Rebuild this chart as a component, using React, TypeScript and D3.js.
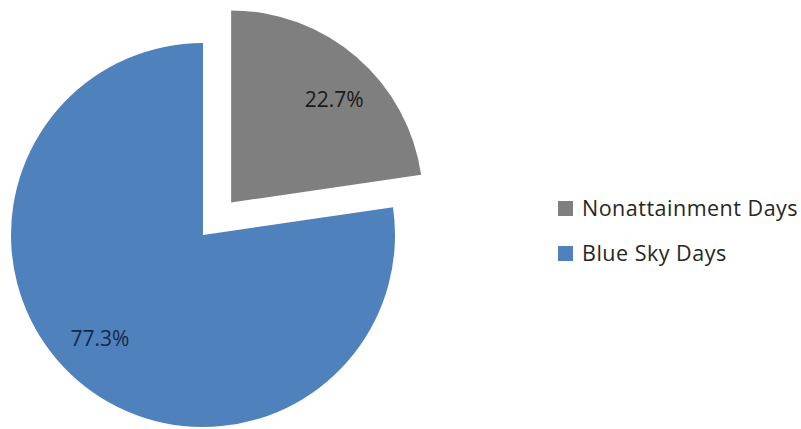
import React from "react";
import * as d3 from "d3";

const categories = ["Nonattainment Days", "Blue Sky Days"];
const values = [22.7, 77.3];
const labels = ["22.7%", "77.3%"];
const colors = ["#7f7f7f", "#4f81bd"];
const labelColors = ["#1a1a1a", "#15294a"];
const explode = [43, 0];

export default function App() {
  const width = 801;
  const height = 429;
  const cx = 203;
  const cy = 235;
  const r = 192;
  const labelR = 146;
  const labelRot = 0.07;
  const pie = d3.pie<number>().sort(null).value((d) => d);
  const arcs = pie(values);
  const arc = d3.arc<d3.PieArcDatum<number>>().innerRadius(0).outerRadius(r);

  return (
    <svg width={width} height={height} style={{ position: "absolute", left: 0, top: 0 }}>
      <rect width={width} height={height} fill="#ffffff" />
      <g transform={`translate(${cx},${cy})`}>
        {arcs.map((a, i) => {
          const mid = (a.startAngle + a.endAngle) / 2;
          const dx = Math.sin(mid) * explode[i];
          const dy = -Math.cos(mid) * explode[i];
          const la = mid + labelRot;
          const lx = Math.sin(la) * labelR;
          const ly = -Math.cos(la) * labelR;
          return (
            <g key={i} transform={`translate(${dx},${dy})`}>
              <path d={arc(a) || ""} fill={colors[i]} />
              <text
                x={lx}
                y={ly}
                textAnchor="middle"
                dominantBaseline="central"
                fontFamily="'Open Sans', sans-serif"
                fontSize={21}
                fill={labelColors[i]}
              >
                {labels[i]}
              </text>
            </g>
          );
        })}
      </g>
      {categories.map((c, i) => (
        <g key={c} transform={`translate(558,${201 + i * 45})`}>
          <rect width={15} height={15} fill={colors[i]} />
          <text
            x={24}
            y={15}
            fontFamily="'Open Sans', sans-serif"
            fontSize={21.5}
            letterSpacing={0.5}
            fill="#262626"
          >
            {c}
          </text>
        </g>
      ))}
    </svg>
  );
}
